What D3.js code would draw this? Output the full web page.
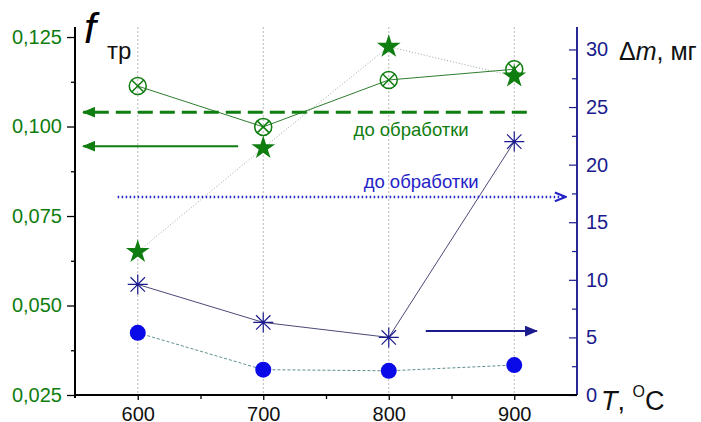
<!DOCTYPE html>
<html>
<head>
<meta charset="utf-8">
<script src="https://cdn.jsdelivr.net/npm/d3@7"></script>
<style>
  body { margin: 0; background: #fff; }
  svg { display: block; font-family: Arial, "Liberation Sans", sans-serif; }
</style>
</head>
<body>
<svg id="chart" width="701" height="422"></svg>
<script>
'use strict';

/* data */
var temps = [600, 700, 800, 900];
var fCrossed = [0.1113, 0.0999, 0.1130, 0.1160];
var fStars = [0.0650, 0.0940, 0.1223, 0.1140];
var dmAsterisk = [9.6, 6.3, 5.0, 22.0];
var dmCircles = [5.4, 2.2, 2.1, 2.6];

var leftTicks = [0.025, 0.050, 0.075, 0.100, 0.125];
var rightTicks = [0, 5, 10, 15, 20, 25, 30];
var bottomTicks = [600, 700, 800, 900];

/* "before treatment" levels */
var fBefore = 0.104;
var dmBefore = 17.2;

var green = "#0f7d0f", navy = "#1b1b8e", blue = "#0a0ae8";

var svg = d3.select("#chart");

var x = d3.scaleLinear().domain([550, 950]).range([75, 577]);
var yL = d3.scaleLinear().domain([0.025, 0.1278]).range([395, 27]);
var yR = d3.scaleLinear().domain([0, 31.95]).range([395, 27]);

/* arrow heads */
var defs = svg.append("defs");
function head(id, color, open) {
  var m = defs.append("marker")
    .attr("id", id)
    .attr("viewBox", "0 -5 12 10")
    .attr("refX", 11).attr("refY", 0)
    .attr("markerUnits", "userSpaceOnUse")
    .attr("markerWidth", 13).attr("markerHeight", 11)
    .attr("orient", "auto");
  if (open) {
    m.append("path").attr("d", "M1,-4L11,0L1,4")
      .attr("fill", "none").attr("stroke", color).attr("stroke-width", 2);
  } else {
    m.append("path").attr("d", "M0,-5L12,0L0,5Z").attr("fill", color);
  }
}
head("hGreen", green, false);
head("hNavy", navy, false);
head("hBlueOpen", "#2323c8", true);

/* vertical grid */
svg.append("g").selectAll("line")
  .data(temps).enter().append("line")
  .attr("x1", function(d){ return x(d); })
  .attr("x2", function(d){ return x(d); })
  .attr("y1", 27).attr("y2", 395)
  .attr("stroke", "#b8b8b8")
  .attr("stroke-width", 1)
  .attr("stroke-dasharray", "2,2");

/* axes */
var fmt = function(d){ return d3.format(".3f")(d).replace(".", ","); };
var fontF = "Arial, 'Liberation Sans', sans-serif";

var gL = svg.append("g").attr("transform", "translate(75,0)")
  .call(d3.axisLeft(yL).tickValues(leftTicks).tickFormat(fmt).tickSize(8).tickPadding(5));
gL.append("g").call(d3.axisLeft(yL).tickValues([0.0375, 0.0625, 0.0875, 0.1125]).tickFormat("").tickSize(4));
gL.selectAll("path.domain").attr("stroke", "#000").attr("stroke-width", 2).attr("d", "M0,27V398");
gL.selectAll(".tick line").attr("stroke", "#000").attr("stroke-width", 1.3);
gL.selectAll("text").attr("fill", green).attr("font-size", 20).attr("font-family", fontF);

var gR = svg.append("g").attr("transform", "translate(577,0)")
  .call(d3.axisRight(yR).tickValues(rightTicks).tickSize(-8).tickPadding(9));
gR.append("g").call(d3.axisRight(yR).tickValues([2.5, 7.5, 12.5, 17.5, 22.5, 27.5]).tickFormat("").tickSize(-5));
gR.selectAll("path.domain").attr("stroke", navy).attr("stroke-width", 1.5).attr("d", "M0,27V395");
gR.selectAll(".tick line").attr("stroke", navy).attr("stroke-width", 1.2);
gR.selectAll("text").attr("fill", navy).attr("font-size", 20).attr("font-family", fontF);

var gB = svg.append("g").attr("transform", "translate(0,395)")
  .call(d3.axisBottom(x).tickValues(bottomTicks).tickFormat(d3.format("d")).tickSize(5).tickPadding(7));
gB.append("g").call(d3.axisBottom(x).tickValues([650, 750, 850]).tickFormat("").tickSize(4));
gB.selectAll("path.domain").attr("stroke", "#000").attr("stroke-width", 2).attr("d", "M75,0H577");
gB.selectAll(".tick line").attr("stroke", "#000").attr("stroke-width", 1.3);
gB.selectAll("text").attr("fill", "#111").attr("font-size", 20).attr("font-family", fontF);

/* connecting lines */
function series(vals, scale) {
  return temps.map(function(t, i){ return [x(t), scale(vals[i])]; });
}
var line = d3.line();

svg.append("path").attr("d", line(series(dmCircles, yR)))
  .attr("fill", "none").attr("stroke", "#5f8f8f").attr("stroke-width", 1).attr("stroke-dasharray", "3,2");
svg.append("path").attr("d", line(series(dmAsterisk, yR)))
  .attr("fill", "none").attr("stroke", "#4a4a78").attr("stroke-width", 1);
svg.append("path").attr("d", line(series(fStars, yL)))
  .attr("fill", "none").attr("stroke", "#9aa89a").attr("stroke-width", 1).attr("stroke-dasharray", "1,2");
svg.append("path").attr("d", line(series(fCrossed, yL)))
  .attr("fill", "none").attr("stroke", "#2d7d2d").attr("stroke-width", 1);

/* reference arrows */
svg.append("line")
  .attr("x1", x(910)).attr("x2", x(556.5))
  .attr("y1", yL(fBefore)).attr("y2", yL(fBefore))
  .attr("stroke", green).attr("stroke-width", 3).attr("stroke-dasharray", "15,7")
  .attr("marker-end", "url(#hGreen)");
svg.append("line")
  .attr("x1", x(680)).attr("x2", x(556.5))
  .attr("y1", yL(0.0945)).attr("y2", yL(0.0945))
  .attr("stroke", green).attr("stroke-width", 2)
  .attr("marker-end", "url(#hGreen)");
svg.append("line")
  .attr("x1", x(584)).attr("x2", x(941))
  .attr("y1", yR(dmBefore)).attr("y2", yR(dmBefore))
  .attr("stroke", "#2323c8").attr("stroke-width", 2.5).attr("stroke-dasharray", "1.5,2.5")
  .attr("marker-end", "url(#hBlueOpen)");
svg.append("line")
  .attr("x1", x(829.5)).attr("x2", x(918))
  .attr("y1", yR(5.55)).attr("y2", yR(5.55))
  .attr("stroke", navy).attr("stroke-width", 2)
  .attr("marker-end", "url(#hNavy)");

svg.append("text").attr("x", x(772)).attr("y", yL(fBefore) + 24)
  .attr("fill", green).attr("font-size", 18.5).text("до обработки");
svg.append("text").attr("x", x(780)).attr("y", yR(dmBefore) - 9)
  .attr("fill", "#2323c8").attr("font-size", 18.5).text("до обработки");

/* markers */
svg.append("g").selectAll("circle")
  .data(dmCircles).enter().append("circle")
  .attr("cx", function(d, i){ return x(temps[i]); })
  .attr("cy", function(d){ return yR(d); })
  .attr("r", 8).attr("fill", blue);

var r = 10;
svg.append("g").selectAll("path")
  .data(dmAsterisk).enter().append("path")
  .attr("transform", function(d, i){ return "translate(" + x(temps[i]) + "," + yR(d) + ")"; })
  .attr("d", "M" + (-r*0.72) + "," + (-r*0.72) + "L" + (r*0.72) + "," + (r*0.72) +
             "M" + (-r*0.72) + "," + (r*0.72) + "L" + (r*0.72) + "," + (-r*0.72) +
             "M0," + (-r) + "V" + r + "M" + (-r) + ",0H" + r)
  .attr("stroke", navy).attr("stroke-width", 1.2).attr("fill", "none");

svg.append("g").selectAll("path")
  .data(fStars).enter().append("path")
  .attr("transform", function(d, i){ return "translate(" + x(temps[i]) + "," + yL(d) + ")"; })
  .attr("d", d3.symbol().type(d3.symbolStar).size(175))
  .attr("fill", green);

var cr = 8.5;
svg.append("g").selectAll("g")
  .data(fCrossed).enter().append("g")
  .attr("transform", function(d, i){ return "translate(" + x(temps[i]) + "," + yL(d) + ")"; })
  .each(function(){
    var g = d3.select(this);
    g.append("circle").attr("r", cr).attr("fill", "none").attr("stroke", green).attr("stroke-width", 1.5);
    var k = cr * 0.707;
    g.append("path").attr("d", "M" + (-k) + "," + (-k) + "L" + k + "," + k + "M" + (-k) + "," + k + "L" + k + "," + (-k))
      .attr("stroke", green).attr("stroke-width", 1.5);
  });

/* axis titles */
svg.append("text").attr("x", 84).attr("y", 43)
  .attr("font-size", 43).attr("font-style", "italic").attr("fill", "#000").text("f");
svg.append("text").attr("x", 107).attr("y", 59)
  .attr("font-size", 24).attr("fill", "#111").text("тр");

var dm = svg.append("text").attr("x", 619).attr("y", 60).attr("font-size", 25).attr("fill", "#111");
dm.append("tspan").text("Δ");
dm.append("tspan").attr("font-style", "italic").text("m");
dm.append("tspan").text(", мг");

var tt = svg.append("text").attr("x", 601).attr("y", 410).attr("font-size", 27).attr("fill", "#111");
tt.append("tspan").attr("font-style", "italic").text("T");
tt.append("tspan").text(", ");
tt.append("tspan").attr("font-size", 16).attr("dy", -13).text("O");
tt.append("tspan").attr("dy", 13).text("C");
</script>
</body>
</html>
